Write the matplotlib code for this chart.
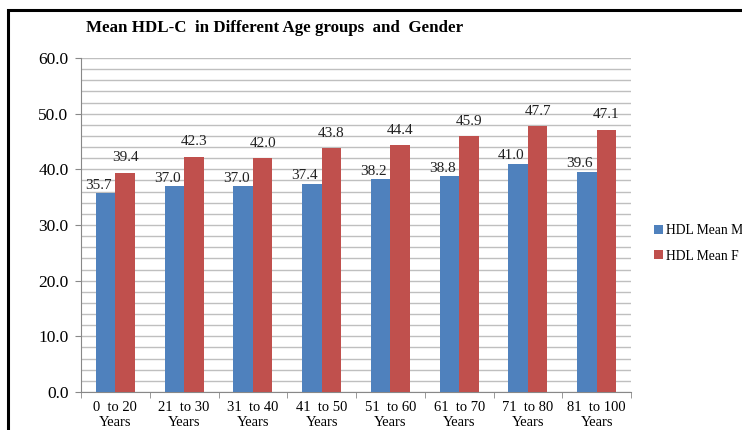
import numpy as np
import matplotlib.pyplot as plt
from matplotlib.patches import Rectangle
from matplotlib.ticker import MultipleLocator

# data
age_groups = ['0  to 20\nYears', '21  to 30\nYears', '31  to 40\nYears', '41  to 50\nYears',
              '51  to 60\nYears', '61  to 70\nYears', '71  to 80\nYears', '81  to 100\nYears']
hdl_male = [35.7, 37.0, 37.0, 37.4, 38.2, 38.8, 41.0, 39.6]
hdl_female = [39.4, 42.3, 42.0, 43.8, 44.4, 45.9, 47.7, 47.1]
series_names = ['HDL Mean M', 'HDL Mean F']

plt.rcParams['font.family'] = ['Liberation Serif', 'DejaVu Serif']

W, H = 742, 430
fig = plt.figure(figsize=(W / 100, H / 100), dpi=100)

# plot area in pixel terms
left, top, right, bottom = 81, 58, 631, 392
ax = fig.add_axes([left / W, 1 - bottom / H, (right - left) / W, (bottom - top) / H])

x = np.arange(len(age_groups))
bw = 0.285
b1 = ax.bar(x - bw / 2, hdl_male, bw, color='#4F81BD', label=series_names[0], zorder=3)
b2 = ax.bar(x + bw / 2, hdl_female, bw, color='#C0504D', label=series_names[1], zorder=3)

# value labels: male ones sit low and a bit left, female ones higher
for bars, vals, off in ((b1, hdl_male, (-5, 1)), (b2, hdl_female, (0, 6))):
    for rect, v in zip(bars, vals):
        ax.annotate(f'{v:.1f}', (rect.get_x() + rect.get_width() / 2, v),
                    xytext=off, textcoords='offset points',
                    ha='center', va='bottom', fontsize=11, color='#222222', zorder=4)

ax.set_xlim(-0.5, len(age_groups) - 0.5)
ax.set_ylim(0, 60)
ax.yaxis.set_major_locator(MultipleLocator(10))
ax.yaxis.set_minor_locator(MultipleLocator(2))
ax.set_yticklabels([f'{v:.1f}' for v in ax.get_yticks()])
ax.grid(axis='y', which='both', color='#bfbfbf', linewidth=1.0, zorder=0)
ax.tick_params(axis='y', which='major', labelsize=12.5, length=4, color='#888888', pad=5)
ax.tick_params(axis='y', which='minor', length=0)

ax.set_xticks(x)
ax.set_xticklabels(age_groups, fontsize=10.5, linespacing=1.15)
ax.set_xticks(np.arange(-0.5, len(age_groups)), minor=True)
ax.tick_params(axis='x', which='major', length=0, pad=6.5)
ax.tick_params(axis='x', which='minor', length=4, color='#888888', direction='out')

for s in ('top', 'right'):
    ax.spines[s].set_visible(False)
ax.spines['left'].set_color('#888888')
ax.spines['bottom'].set_color('#888888')

fig.text(86 / W, 1 - 28 / H, 'Mean HDL-C  in Different Age groups  and  Gender',
         fontsize=12.2, fontweight='bold', ha='left', va='center')

fig.legend(handles=[b1, b2], loc='upper left', bbox_to_anchor=(649 / W, 1 - 219 / H),
           frameon=False, fontsize=9.8, handlelength=0.65, handleheight=0.65,
           handletextpad=0.2, labelspacing=0.9, borderaxespad=0)

fig.patches.append(Rectangle((8 / W, -0.1), 1.2, 1.1 - 10 / H, transform=fig.transFigure,
                             fill=False, edgecolor='black', linewidth=2.2))

fig.savefig('out.png', dpi=100)
